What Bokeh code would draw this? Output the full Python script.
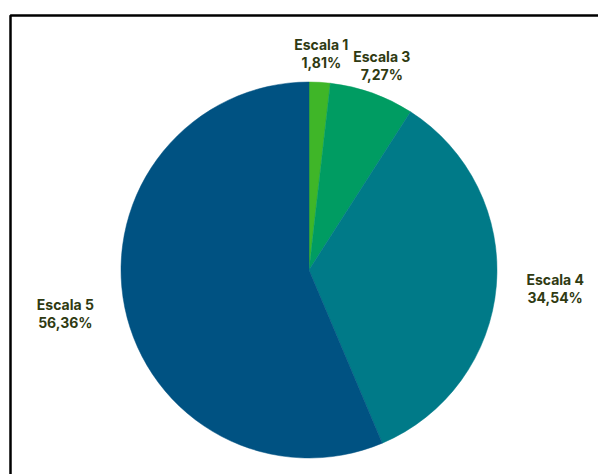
import math
from bokeh.plotting import figure
from bokeh.models import Range1d, ColumnDataSource
from bokeh.core.properties import value
from bokeh.embed import file_html
from bokeh.resources import INLINE

# ---- data ----
categories = ["Escala 1", "Escala 3", "Escala 4", "Escala 5"]
percents = [1.81, 7.27, 34.54, 56.36]
pct_labels = ["1,81%", "7,27%", "34,54%", "56,36%"]
colors = ["#3fb628", "#009c62", "#007a88", "#005282"]

W, H = 598, 474
p = figure(width=W, height=H, output_backend="svg", toolbar_location=None,
           x_range=Range1d(0, W), y_range=Range1d(0, H), min_border=0)
p.axis.visible = False
p.grid.visible = False
p.outline_line_color = None
p.background_fill_color = "white"
p.border_fill_color = "white"

# frame (partially cropped box)
p.line(x=[10, 10, W + 5], y=[-5, H - 15, H - 15], line_color="black", line_width=2.5)

cx, cy, R = 308.5, H - 269.5, 188
total = sum(percents)
starts, ends, lx, ly = [], [], [], []
cum = 0.0
for v in percents:
    a0 = math.pi / 2 - 2 * math.pi * cum / total
    a1 = math.pi / 2 - 2 * math.pi * (cum + v) / total
    starts.append(a0)
    ends.append(a1)
    mid = 2 * math.pi * (cum + v / 2) / total  # clockwise from top
    rl = 217
    x = cx + rl * math.sin(mid)
    y = cy + rl * math.cos(mid)
    s = math.sin(mid)
    if s > 0.6:
        x += 30
    elif s < -0.6:
        x -= 31
    lx.append(x)
    ly.append(y)
    cum += v

src = ColumnDataSource(dict(start=starts, end=ends, color=colors))
p.wedge(x=cx, y=cy, radius=R, start_angle="start", end_angle="end",
        direction="clock", fill_color="color", line_color="color", line_width=0.5,
        source=src)

tsrc1 = ColumnDataSource(dict(x=lx, y=[y + 9 for y in ly], t=categories))
tsrc2 = ColumnDataSource(dict(x=lx, y=[y - 9 for y in ly], t=pct_labels))
for s in (tsrc1, tsrc2):
    p.text(x="x", y="y", text="t", source=s, text_align="center",
           text_baseline="middle", text_font=value("Inter"),
           text_font_style="bold", text_font_size="14px", text_color="#2f3a12")

open("out.html", "w").write(file_html(p, INLINE))
